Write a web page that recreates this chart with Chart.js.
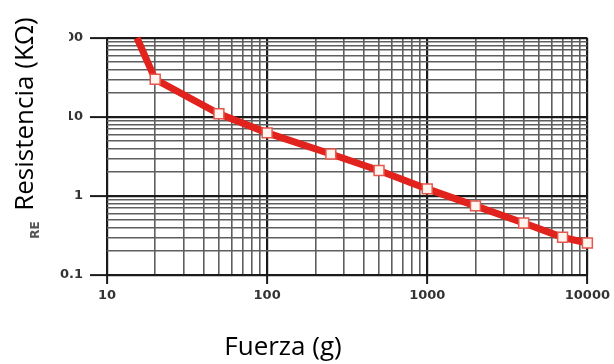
<!DOCTYPE html>
<html>
<head>
<meta charset="utf-8">
<script src="https://cdn.jsdelivr.net/npm/chart.js@4.4.0/dist/chart.umd.min.js"></script>
<style>
  html, body { margin: 0; padding: 0; background: #fff; }
  #wrap { width: 614px; height: 364px; }
</style>
</head>
<body>
<div id="wrap"><canvas id="fsrChart" width="614" height="364"></canvas></div>
<script>
// Force (g) vs resistance (kOhm)
const forceG      = [15.4, 20, 50, 100, 250, 500, 1000, 2000, 4000, 7000, 10000];
const resistanceK = [100, 30, 11, 6.3, 3.4, 2.1, 1.23, 0.75, 0.455, 0.30, 0.254];
const hasMarker   = [false, true, true, true, true, true, true, true, true, true, true];

// grid lines: every multiplier of every decade
const multipliers = [1, 2, 3, 4, 5, 6, 7, 8, 9];
const xDecades = [10, 100, 1000];
const yDecades = [0.1, 1, 10];
const xTickLabels = ['10', '100', '1000', '10000'];
const yTickLabels = ['0.1', '1', '10', '100'];

function gridValues(decades, last) {
    const out = [];
    decades.forEach(d => multipliers.forEach(m => out.push(d * m)));
    out.push(last);
    return out;
}

function isMajor(v) {
    const l = Math.log10(v);
    return Math.abs(l - Math.round(l)) < 1e-6;
}

function labelFor(v, labels) {
    if (!isMajor(v)) return '';
    const hit = labels.find(s => Math.abs(Math.log10(parseFloat(s)) - Math.log10(v)) < 1e-6);
    return hit || '';
}

const gridStyle = {
    color: ctx => isMajor(ctx.tick.value) ? '#1a1a1a' : '#5e5e5e',
    lineWidth: ctx => isMajor(ctx.tick.value) ? 2.2 : 1.6,
    tickColor: ctx => isMajor(ctx.tick.value) ? '#1a1a1a' : 'rgba(0,0,0,0)',
    tickWidth: 2
};

// titles and the white patch behind the y title
const titlePlugin = {
    id: 'titles',
    afterDraw(chart) {
        const c = chart.ctx;
        c.save();
        c.fillStyle = '#fff';
        c.fillRect(0, 0, 69, 222);
        c.fillStyle = '#000';
        c.font = '26px "Open Sans"';
        c.textAlign = 'center';
        c.textBaseline = 'alphabetic';
        c.save();
        c.translate(33, 114);
        c.rotate(-Math.PI / 2);
        c.fillText('Resistencia (KΩ)', 0, 0);
        c.restore();
        c.save();
        c.translate(39, 230);
        c.rotate(-Math.PI / 2);
        c.fillStyle = '#555';
        c.font = 'bold 12px "DejaVu Sans"';
        c.fillText('RE', 0, 0);
        c.restore();
        c.font = '26px "Open Sans"';
        c.fillText('Fuerza (g)', 283, 355);
        c.restore();
    }
};

new Chart(document.getElementById('fsrChart').getContext('2d'), {
    type: 'line',
    data: {
        datasets: [{
            data: forceG.map((f, i) => ({ x: f, y: resistanceK[i] })),
            borderColor: '#e2221d',
            borderWidth: 7,
            tension: 0,
            fill: false,
            clip: false,
            pointStyle: 'rect',
            pointRadius: hasMarker.map(m => m ? 7 : 0),
            pointBackgroundColor: '#fff4ee',
            pointBorderColor: '#e4574d',
            pointBorderWidth: 1.5
        }]
    },
    options: {
        responsive: false,
        animation: false,
        events: [],
        layout: { padding: { left: 0, right: 25, top: 38, bottom: 0 } },
        plugins: {
            legend: { display: false },
            tooltip: { enabled: false }
        },
        scales: {
            x: {
                type: 'logarithmic',
                min: 10,
                max: 10000,
                afterBuildTicks: s => { s.ticks = gridValues(xDecades, 10000).map(v => ({ value: v })); },
                afterFit: s => { s.height = 89; },
                border: { display: false },
                grid: Object.assign({ tickLength: 9 }, gridStyle),
                ticks: {
                    autoSkip: false,
                    maxRotation: 0,
                    padding: 4,
                    color: '#333',
                    font: { family: 'DejaVu Sans', size: 13, weight: 'bold' },
                    callback: v => labelFor(v, xTickLabels)
                }
            },
            y: {
                type: 'logarithmic',
                min: 0.1,
                max: 100,
                afterBuildTicks: s => { s.ticks = gridValues(yDecades, 100).map(v => ({ value: v })); },
                afterFit: s => { s.width = 107; },
                border: { display: false },
                grid: Object.assign({ tickLength: 17 }, gridStyle),
                ticks: {
                    autoSkip: false,
                    padding: 7,
                    color: '#333',
                    font: { family: 'DejaVu Sans', size: 13, weight: 'bold' },
                    callback: v => labelFor(v, yTickLabels)
                }
            }
        }
    },
    plugins: [titlePlugin]
});
</script>
</body>
</html>
